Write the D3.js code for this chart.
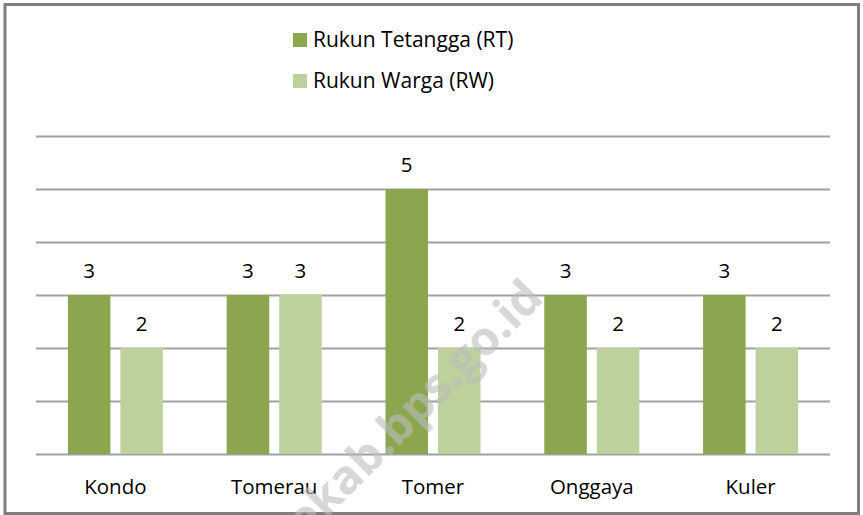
<!DOCTYPE html>
<html>
<head>
<meta charset="utf-8">
<script src="https://cdn.jsdelivr.net/npm/d3@7"></script>
<style>
  body { margin: 0; background: #fff; }
  text { font-family: 'Open Sans', sans-serif; }
</style>
</head>
<body>
<div id="chart"></div>
<script>
// Data
const villages = ['Kondo', 'Tomerau', 'Tomer', 'Onggaya', 'Kuler']
const seriesNames = ['Rukun Tetangga (RT)', 'Rukun Warga (RW)']
const rtValues = [3, 3, 5, 3, 3]
const rwValues = [2, 3, 2, 2, 2]
const yTicks = [0, 1, 2, 3, 4, 5, 6]
const watermark = 'meraukekab.bps.go.id'

const width = 863
const height = 515
const plot = { left: 36, right: 830, top: 136, bottom: 454 }
const colors = ['#8BA64F', '#BCD19B']

const svg = d3
  .select('#chart')
  .append('svg')
  .attr('width', width)
  .attr('height', height)

// outer frame
svg
  .append('rect')
  .attr('x', 5)
  .attr('y', 4.5)
  .attr('width', 853.5)
  .attr('height', 509)
  .attr('fill', '#fff')
  .attr('stroke', '#7f7f7f')
  .attr('stroke-width', 3)

// scales
const xScale = d3.scaleBand().domain(villages).range([plot.left, plot.right])
const xInner = d3
  .scaleBand()
  .domain([0, 1])
  .range([0, xScale.bandwidth()])
  .paddingInner(0.19)
  .paddingOuter(0.607)
const yScale = d3.scaleLinear().domain([0, 6]).range([plot.bottom, plot.top])

// gridlines
const yAxis = d3
  .axisLeft(yScale)
  .tickValues(yTicks)
  .tickSize(-(plot.right - plot.left))
  .tickFormat('')
svg
  .append('g')
  .attr('class', 'grid')
  .attr('transform', 'translate(' + plot.left + ',0)')
  .call(yAxis)
  .call(g => g.select('.domain').remove())
  .call(g => g.selectAll('.tick line').attr('stroke', '#a0a0a0').attr('stroke-width', 2))

// bars
const rows = villages.map((v, i) => ({ village: v, values: [rtValues[i], rwValues[i]] }))

const groups = svg
  .selectAll('.group')
  .data(rows)
  .enter()
  .append('g')
  .attr('transform', d => 'translate(' + xScale(d.village) + ',0)')

groups
  .selectAll('rect')
  .data(d => d.values.map((v, k) => ({ k: k, v: v })))
  .enter()
  .append('rect')
  .attr('x', d => xInner(d.k))
  .attr('width', xInner.bandwidth())
  .attr('y', d => yScale(d.v))
  .attr('height', d => yScale(0) - yScale(d.v))
  .attr('fill', d => colors[d.k])

groups
  .selectAll('.value')
  .data(d => d.values.map((v, k) => ({ k: k, v: v })))
  .enter()
  .append('text')
  .attr('class', 'value')
  .attr('x', d => xInner(d.k) + xInner.bandwidth() / 2)
  .attr('y', d => yScale(d.v) - 17)
  .attr('text-anchor', 'middle')
  .attr('font-size', 20.5)
  .attr('fill', '#000')
  .text(d => d.v)

// category labels
const xAxis = d3.axisBottom(xScale).tickSize(0).tickPadding(25)
svg
  .append('g')
  .attr('transform', 'translate(0,' + plot.bottom + ')')
  .call(xAxis)
  .call(g => g.select('.domain').remove())
  .call(g => g.selectAll('text').attr('font-size', 20.5).attr('fill', '#000').attr('font-family', "'Open Sans', sans-serif"))

// legend
const legend = svg
  .selectAll('.legend')
  .data(seriesNames)
  .enter()
  .append('g')
  .attr('transform', (d, i) => 'translate(293,' + (33 + i * 41) + ')')

legend
  .append('rect')
  .attr('width', 14)
  .attr('height', 14)
  .attr('fill', (d, i) => colors[i])

legend
  .append('text')
  .attr('x', 20)
  .attr('y', 7)
  .attr('dy', '0.35em')
  .attr('font-size', 21)
  .attr('fill', '#000')
  .text(d => d)

// watermark
svg
  .append('text')
  .attr('transform', 'translate(545,300) rotate(-45)')
  .attr('text-anchor', 'end')
  .attr('font-size', 47)
  .attr('font-weight', 'bold')
  .attr('fill', '#bdbdbd')
  .attr('opacity', 0.6)
  .text(watermark)
</script>
</body>
</html>
